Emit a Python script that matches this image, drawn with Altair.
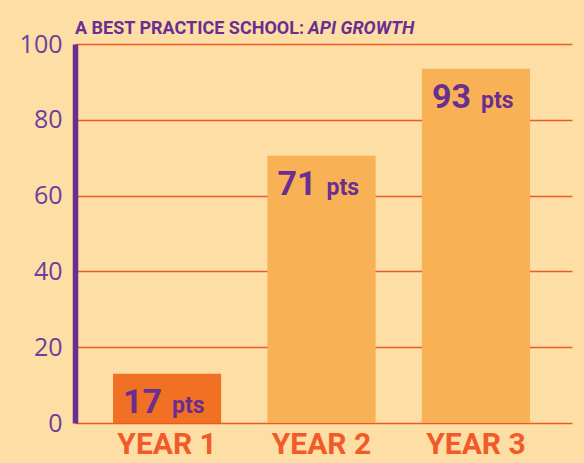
import altair as alt
import pandas as pd

# ---- data ----
years = ["YEAR 1", "YEAR 2", "YEAR 3"]
bar_values = [13, 70.5, 93.5]          # drawn bar heights
point_labels = ["17", "71", "93"]      # printed labels
unit_label = "pts"
highlight = [True, False, False]
y_ticks = [0, 20, 40, 60, 80, 100]
title_main = "A BEST PRACTICE SCHOOL:"
title_em = "API GROWTH"

BG = "#FDDEA4"
PURPLE = "#6A2E91"
LABEL_PURPLE = "#6B3FA0"
ORANGE = "#F15A29"
GRID = "#EE5A27"
BAR_HI = "#F27024"
BAR = "#F8B255"
COND = "Roboto"

df = pd.DataFrame({
    "year": years,
    "value": bar_values,
    "num": point_labels,
    "unit": [unit_label] * len(years),
    "hl": highlight,
})

x = alt.X(
    "year:N", sort=years,
    scale=alt.Scale(paddingInner=0.3, paddingOuter=0.259, align=0.475),
    axis=alt.Axis(title=None, labelAngle=0, domain=False, ticks=False,
                  labelFont="Roboto", labelFontSize=30, labelFontWeight="bold",
                  labelColor=ORANGE, labelPadding=6),
)
y = alt.Y(
    "value:Q",
    scale=alt.Scale(domain=[0, 100], nice=False, zero=True),
    axis=alt.Axis(title=None, values=y_ticks, grid=True, gridColor=GRID,
                  gridWidth=1.6, domainColor=PURPLE, domainWidth=5.5,
                  ticks=False, labelFont="Open Sans", labelFontSize=25,
                  labelColor=LABEL_PURPLE, labelPadding=13,
                  labelBaseline="middle"),
)

base = alt.Chart(df)

bars = base.mark_bar().encode(
    x=x, y=y,
    color=alt.Color("hl:N", scale=alt.Scale(domain=[True, False], range=[BAR_HI, BAR]), legend=None),
)

nums = base.mark_text(
    font=COND, fontSize=34, fontWeight="bold", color=PURPLE,
    align="right", baseline="alphabetic", dx=-5, dy=39,
).encode(x=alt.X("year:N", sort=years), y="value:Q", text="num:N")

units = base.mark_text(
    font=COND, fontSize=23, fontWeight="bold", color=PURPLE,
    align="left", baseline="alphabetic", dx=5, dy=39,
).encode(x=alt.X("year:N", sort=years), y="value:Q", text="unit:N")

t1 = alt.Chart(pd.DataFrame({"t": [title_main]})).mark_text(
    font=COND, fontSize=18, fontWeight="bold", color=PURPLE,
    align="left", baseline="alphabetic",
).encode(text="t:N", x=alt.value(0), y=alt.value(-10.5))

t2 = alt.Chart(pd.DataFrame({"t": [title_em]})).mark_text(
    font=COND, fontSize=18, fontWeight="bold", fontStyle="italic", color=PURPLE,
    align="left", baseline="alphabetic",
).encode(text="t:N", x=alt.value(233), y=alt.value(-10.5))

chart = alt.layer(bars, nums, units, t1, t2).properties(
    width=497, height=379,
    padding={"left": 75, "top": 44, "right": 12, "bottom": 40},
    autosize=alt.AutoSizeParams(type="none"),
    background=BG,
).configure_view(stroke=None)

chart.save("out.html", embed_options={"renderer": "svg", "actions": False})
